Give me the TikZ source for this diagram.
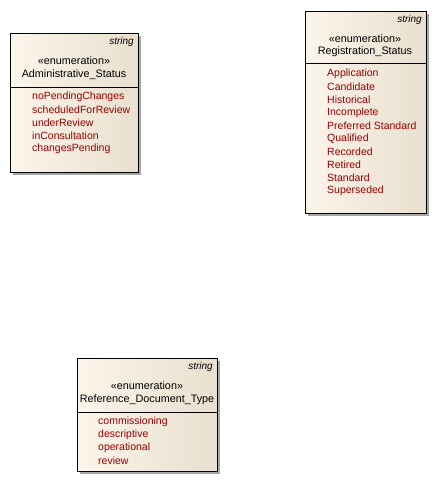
\documentclass[tikz,border=0pt]{standalone}
\usepackage{fontspec}
\setmainfont{Liberation Sans}
\usetikzlibrary{shadows}
\definecolor{enumred}{RGB}{153,0,0}
\definecolor{boxleft}{RGB}{252,245,234}
\definecolor{boxright}{RGB}{232,223,206}
\tikzset{
	enumbox/.style={draw=black,anchor=north west,left color=boxleft,right color=boxright,
		drop shadow={shadow xshift=3pt,shadow yshift=-3pt,fill=black!35,opacity=1},inner sep=0pt},
	typename/.style={anchor=east,font=\itshape\fontsize{10}{11}\selectfont,inner sep=0pt},
	header/.style={font=\fontsize{10.8}{12}\selectfont,inner sep=0pt},
	literal/.style={anchor=west,text=enumred,font=\fontsize{10.5}{12}\selectfont,inner sep=0pt}
}
\begin{document}
\begin{tikzpicture}[x=1pt,y=-1pt]
					\useasboundingbox (0,0) rectangle (437,482);
					% Administrative_Status
					\node[enumbox,minimum width=128pt,minimum height=139pt] (admin) at (10,33) {};
					\draw (admin.west |- 0,87) -- (admin.east |- 0,87);
					\node[typename] (adminType) at (134,42) {string};
					\node[header] (adminStereo) at (74,61) {«enumeration»};
					\node[header] (adminName) at (74,75) {Administrative\_Status};
					\foreach \lit [count=\i from 0] in {noPendingChanges,scheduledForReview,underReview,inConsultation,changesPending}
						\node[literal] (admin\i) at (32,96.5+13*\i) {\lit};
					% Registration_Status
					\node[enumbox,minimum width=121pt,minimum height=202pt] (reg) at (305,11) {};
					\draw (reg.west |- 0,63) -- (reg.east |- 0,63);
					\node[typename] (regType) at (422,20) {string};
					\node[header] (regStereo) at (365,39) {«enumeration»};
					\node[header] (regName) at (365,52) {Registration\_Status};
					\foreach \lit [count=\i from 0] in {Application,Candidate,Historical,Incomplete,Preferred Standard,Qualified,Recorded,Retired,Standard,Superseded}
						\node[literal] (reg\i) at (327,73.5+13*\i) {\lit};
					% Reference_Document_Type
					\node[enumbox,minimum width=140pt,minimum height=113pt] (ref) at (77,358) {};
					\draw (ref.west |- 0,412) -- (ref.east |- 0,412);
					\node[typename] (refType) at (213,367) {string};
					\node[header] (refStereo) at (147,386) {«enumeration»};
					\node[header] (refName) at (147,400) {Reference\_Document\_Type};
					\foreach \lit [count=\i from 0] in {commissioning,descriptive,operational,review}
						\node[literal] (ref\i) at (98,421.5+13*\i) {\lit};
				\end{tikzpicture}
\end{document}
